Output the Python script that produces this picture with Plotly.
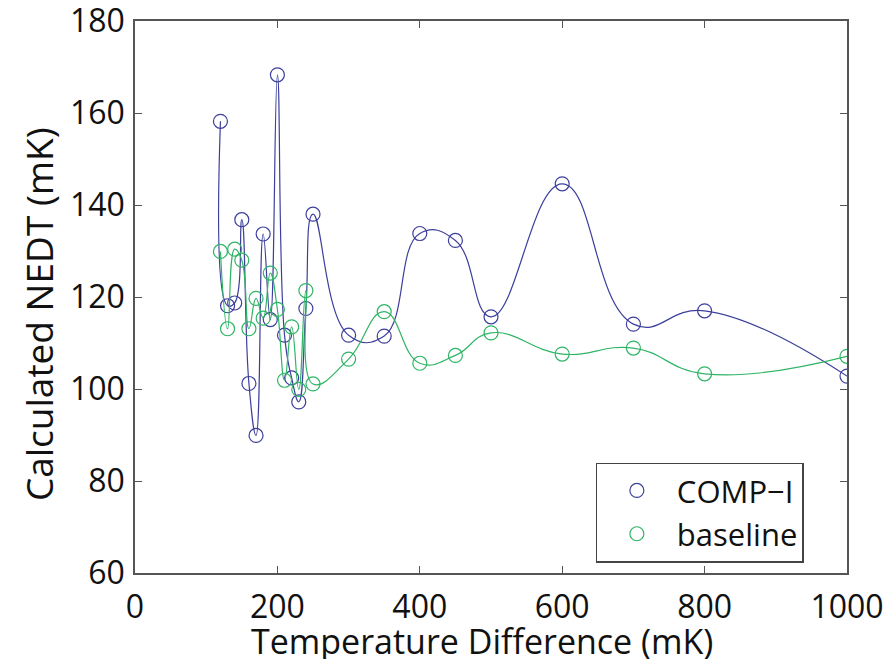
import plotly.graph_objects as go

x_vals = [120, 130, 140, 150, 160, 170, 180, 190, 200, 210, 220, 230, 240, 250,
          300, 350, 400, 450, 500, 600, 700, 800, 1000]
comp_i = [158.2, 118.1, 118.7, 136.8, 101.2, 89.9, 133.7, 115.1, 168.3, 111.7,
          102.4, 97.2, 117.5, 138.0, 111.7, 111.5, 133.8, 132.3, 115.7, 144.6,
          114.1, 117.0, 102.8]
baseline = [129.9, 113.1, 130.4, 128.0, 113.1, 119.7, 115.4, 125.2, 117.3, 101.9,
            113.5, 99.9, 121.4, 101.1, 106.5, 116.8, 105.6, 107.3, 112.2, 107.6,
            108.9, 103.3, 107.1]
x_ticks = [0, 200, 400, 600, 800, 1000]
y_ticks = [60, 80, 100, 120, 140, 160, 180]
x_title = "Temperature Difference (mK)"
y_title = "Calculated NEDT (mK)"

BLUE = "#3d3f9c"
GREEN = "#2fb565"
FONT = "Open Sans"

fig = go.Figure()
for name, ys, col in [("COMP\u2212I", comp_i, BLUE), ("baseline", baseline, GREEN)]:
    fig.add_trace(go.Scatter(x=x_vals, y=ys, mode="lines", showlegend=False,
                             line=dict(color=col, width=1.2, shape="spline", smoothing=1.3),
                             hoverinfo="skip"))
    fig.add_trace(go.Scatter(x=x_vals, y=ys, mode="markers", name=name,
                             marker=dict(symbol="circle-open", size=14, color=col,
                                         line=dict(width=1.2, color=col))))

axis_common = dict(showgrid=False, zeroline=False, showline=True, mirror="ticks",
                   linecolor="#555555", linewidth=1.5, ticks="inside", ticklen=7,
                   tickcolor="#555555", automargin=False, ticklabeloverflow="allow",
                   tickfont=dict(family=FONT, size=32, color="#111"))

fig.update_xaxes(range=[0, 1000], tickvals=x_ticks, ticklabelstandoff=5, **axis_common)
fig.update_yaxes(range=[60, 180], tickvals=y_ticks, ticklabelstandoff=2, **axis_common)

fig.add_annotation(text=x_title, xref="paper", yref="paper", x=0.487, y=0,
                   xanchor="center", yanchor="middle", yshift=-68, showarrow=False,
                   font=dict(family=FONT, size=34, color="#111"))
fig.add_annotation(text=y_title, xref="paper", yref="paper", x=0, y=0.469,
                   xanchor="center", yanchor="middle", xshift=-97, textangle=-90,
                   showarrow=False, font=dict(family=FONT, size=37, color="#111"))

fig.update_layout(
    width=884, height=651,
    margin=dict(l=127, r=45, t=13, b=86),
    plot_bgcolor="white", paper_bgcolor="white",
    font=dict(family=FONT, size=32, color="#111"),
    legend=dict(x=0.647, y=0.2, xanchor="left", yanchor="top",
                bordercolor="#444444", borderwidth=1.2, bgcolor="white",
                font=dict(family=FONT, size=31, color="#111"),
                itemwidth=70, tracegroupgap=0, entrywidth=170),
    showlegend=True,
)

fig.write_html("out.html")
